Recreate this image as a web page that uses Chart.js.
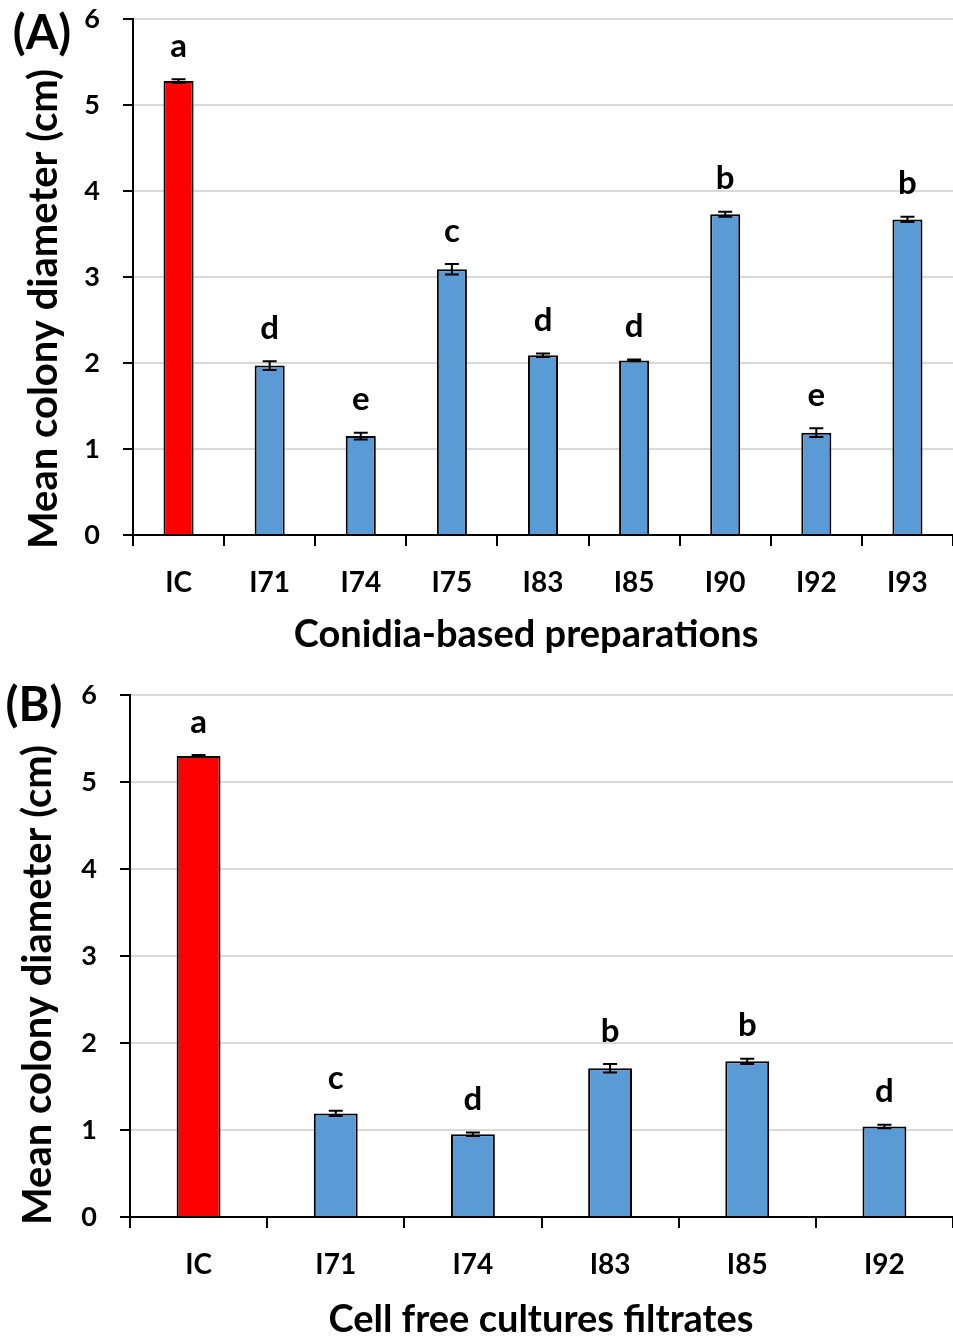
<!DOCTYPE html>
<html>
<head>
<meta charset="utf-8">
<script src="https://cdn.jsdelivr.net/npm/chart.js@4.4.1/dist/chart.umd.min.js"></script>
<style>
  html, body { margin: 0; padding: 0; background: #fff; }
  .panel { position: absolute; left: 0; }
  #wrapA { top: 0; }
  #wrapB { top: 680px; }
</style>
</head>
<body>
<div class="panel" id="wrapA"><canvas id="chartA" width="953" height="672"></canvas></div>
<div class="panel" id="wrapB"><canvas id="chartB" width="953" height="658"></canvas></div>
<script>
// Panel A - conidia-based preparations
const labelsA = ["IC", "I71", "I74", "I75", "I83", "I85", "I90", "I92", "I93"];
const meansA = [5.28, 1.97, 1.15, 3.09, 2.09, 2.03, 3.73, 1.19, 3.67];
const errorsA = [0.02, 0.05, 0.04, 0.06, 0.02, 0.01, 0.03, 0.05, 0.03];
const lettersA = ["a", "d", "e", "c", "d", "d", "b", "e", "b"];

// Panel B - cell free culture filtrates
const labelsB = ["IC", "I71", "I74", "I83", "I85", "I92"];
const meansB = [5.3, 1.19, 0.95, 1.71, 1.79, 1.04];
const errorsB = [0.01, 0.03, 0.02, 0.05, 0.03, 0.02];
const lettersB = ["a", "c", "d", "b", "b", "d"];

const yTicks = [0, 1, 2, 3, 4, 5, 6];

const FONT = "Lato, 'Open Sans', sans-serif";
const RED = "#ff0000";
const BLUE = "#5b9bd5";

const errorBarsPlugin = {
    id: "errorBars",
    afterDatasetsDraw(chart, args, opts) {
        const ctx = chart.ctx;
        const meta = chart.getDatasetMeta(0);
        const y = chart.scales.y;
        ctx.save();
        ctx.strokeStyle = "#000";
        ctx.lineWidth = 2;
        meta.data.forEach((bar, i) => {
            const v = opts.means[i];
            const e = opts.errors[i];
            const yTop = y.getPixelForValue(v + e);
            const yBot = y.getPixelForValue(v - e);
            ctx.beginPath();
            ctx.moveTo(bar.x, yTop);
            ctx.lineTo(bar.x, yBot);
            ctx.moveTo(bar.x - 7, yTop);
            ctx.lineTo(bar.x + 7, yTop);
            ctx.moveTo(bar.x - 7, yBot);
            ctx.lineTo(bar.x + 7, yBot);
            ctx.stroke();
            // significance letter
            ctx.fillStyle = "#000";
            ctx.font = "bold 33px " + FONT;
            ctx.textAlign = "center";
            ctx.textBaseline = "middle";
            ctx.fillText(opts.letters[i], bar.x, yTop - 33);
        });
        ctx.restore();
    },
};

const titlesPlugin = {
    id: "panelTitles",
    afterDraw(chart, args, opts) {
        const ctx = chart.ctx;
        ctx.save();
        ctx.fillStyle = "#000";
        ctx.textAlign = "center";
        ctx.textBaseline = "middle";

        ctx.font = "bold 47px " + FONT;
        ctx.fillText(opts.panel, opts.panelX, opts.panelY);

        ctx.font = "bold 38px " + FONT;
        ctx.fillText(opts.xTitle, opts.xTitleX, opts.xTitleY);

        ctx.translate(opts.yTitleX, opts.yTitleY);
        ctx.rotate(-Math.PI / 2);
        ctx.font = "bold 40px " + FONT;
        ctx.fillText(opts.yTitle, 0, 0);
        ctx.restore();
    },
};

function noPad(s) {
    s.paddingTop = 0;
    s.paddingBottom = 0;
    s.paddingLeft = 0;
    s.paddingRight = 0;
}

function makeChart(id, labels, means, errors, letters, cfg) {
    const el = document.getElementById(id);
    return new Chart(el, {
        type: "bar",
        data: {
            labels: labels,
            datasets: [
                {
                    data: means,
                    backgroundColor: labels.map((l) => (l === "IC" ? RED : BLUE)),
                    borderColor: "#000",
                    borderWidth: 2,
                    borderSkipped: "bottom",
                    categoryPercentage: 1,
                    barPercentage: cfg.barPct,
                },
            ],
        },
        options: {
            responsive: false,
            animation: false,
            devicePixelRatio: 1,
            layout: { padding: { top: cfg.top, right: 0, left: 0, bottom: 0 } },
            plugins: {
                legend: { display: false },
                tooltip: { enabled: false },
                errorBars: { means: means, errors: errors, letters: letters },
                panelTitles: cfg.titles,
            },
            scales: {
                x: {
                    offset: true,
                    grid: {
                        offset: true,
                        drawOnChartArea: false,
                        color: "#000",
                        lineWidth: 2,
                        tickLength: 11,
                    },
                    border: { color: "#000", width: 2 },
                    ticks: {
                        color: "#000",
                        font: { family: FONT, size: 28, weight: "bold" },
                        padding: cfg.xPad,
                        maxRotation: 0,
                    },
                    afterFit: (s) => {
                        s.height = cfg.xHeight;
                        noPad(s);
                    },
                },
                y: {
                    min: 0,
                    max: 6,
                    afterBuildTicks: (s) => {
                        s.ticks = yTicks.map((v) => ({ value: v }));
                    },
                    grid: {
                        color: (c) => (c.tick && c.tick.value === 0 ? "rgba(0,0,0,0)" : "#d9d9d9"),
                        tickColor: "#000",
                        lineWidth: 2,
                        tickLength: 10,
                    },
                    border: { color: "#000", width: 2 },
                    ticks: {
                        color: "#000",
                        font: { family: FONT, size: 27, weight: "bold" },
                        padding: cfg.yPad,
                    },
                    afterFit: (s) => {
                        s.width = cfg.yWidth;
                        noPad(s);
                    },
                },
            },
        },
        plugins: [errorBarsPlugin, titlesPlugin],
    });
}

makeChart("chartA", labelsA, meansA, errorsA, lettersA, {
    barPct: 0.33,
    top: 19,
    xHeight: 672 - 535,
    yWidth: 133,
    xPad: 20,
    yPad: 23,
    titles: {
        panel: "(A)",
        panelX: 42,
        panelY: 34,
        xTitle: "Conidia-based preparations",
        xTitleX: 526,
        xTitleY: 635,
        yTitle: "Mean colony diameter (cm)",
        yTitleX: 44,
        yTitleY: 309,
    },
});

makeChart("chartB", labelsB, meansB, errorsB, lettersB, {
    barPct: 0.32,
    top: 15,
    xHeight: 658 - 537,
    yWidth: 130,
    xPad: 20,
    yPad: 23,
    titles: {
        panel: "(B)",
        panelX: 34,
        panelY: 26,
        xTitle: "Cell free cultures filtrates",
        xTitleX: 541,
        xTitleY: 640,
        yTitle: "Mean colony diameter (cm)",
        yTitleX: 38,
        yTitleY: 305,
    },
});
</script>
</body>
</html>
